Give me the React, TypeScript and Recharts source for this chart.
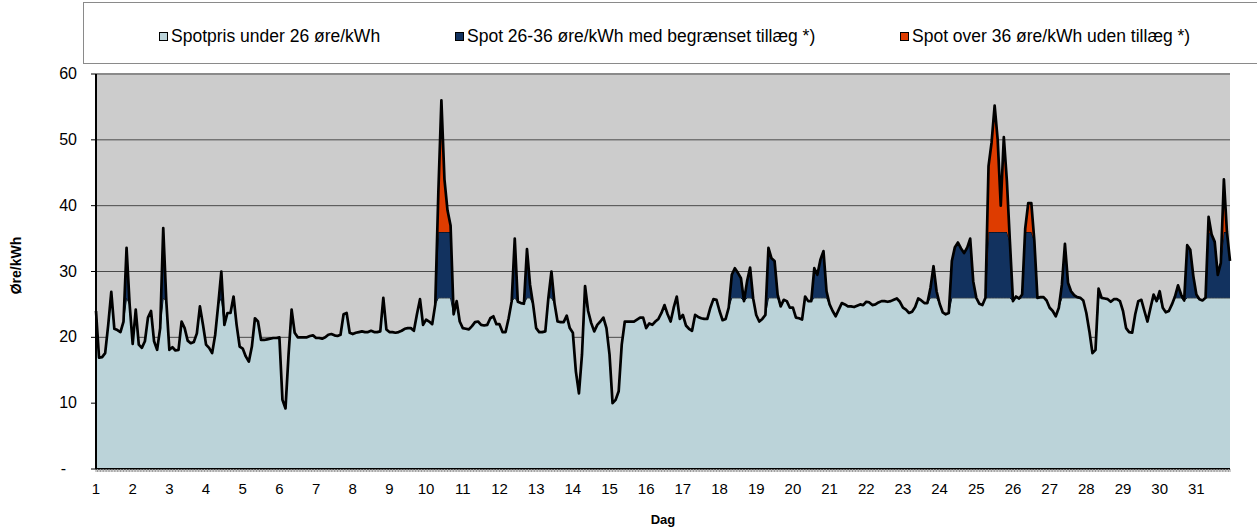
import React from 'react';
import { ComposedChart, Area, Line, XAxis, YAxis, CartesianGrid, Label, ReferenceLine } from 'recharts';

// Spot prices (øre/kWh), one value every 2 hours, 12 values per day
const day01 = [24, 16.9, 17, 17.6, 21.9, 26.9, 21.3, 21.1, 20.8, 22.4, 33.6, 25];
const day02 = [19, 24.2, 18.9, 18.4, 19.4, 23, 24, 19.4, 18.1, 21.4, 36.6, 25.5];
const day03 = [18.1, 18.5, 18, 18.1, 22.4, 21.4, 19.5, 19.1, 19.3, 20.6, 24.7, 21.9];
const day04 = [18.9, 18.4, 17.6, 20.4, 25, 30, 21.9, 23.7, 23.7, 26.2, 21.9, 18.6];
const day05 = [18.3, 17.1, 16.3, 18.6, 22.9, 22.4, 19.6, 19.6, 19.7, 19.8, 19.9, 19.9];
const day06 = [20, 10.5, 9.2, 17.4, 24.2, 20.7, 20, 20, 20, 20, 20.2, 20.3];
const day07 = [19.9, 19.9, 19.8, 20, 20.4, 20.5, 20.3, 20.2, 20.4, 23.5, 23.7, 20.7];
const day08 = [20.5, 20.7, 20.8, 20.9, 20.8, 20.8, 21, 20.8, 20.8, 20.9, 26, 21.2];
const day09 = [20.8, 20.8, 20.7, 20.8, 21, 21.3, 21.4, 21.4, 21, 23.5, 25.8, 21.9];
const day10 = [22.7, 22.4, 22, 25, 42, 56, 44, 39.3, 37, 23.5, 25.5, 22.4];
const day11 = [21.4, 21.3, 21.2, 21.7, 22.3, 22.4, 21.9, 21.8, 21.9, 22.9, 23.2, 22];
const day12 = [22, 20.8, 20.8, 22.9, 25.5, 35, 25.4, 25.2, 25.1, 33.4, 28, 25];
const day13 = [21.4, 20.8, 20.8, 20.9, 26, 30, 25.2, 22.4, 22.3, 22.3, 23.3, 21.4];
const day14 = [20.7, 14.8, 11.5, 17.4, 27.8, 24, 22.2, 20.9, 21.9, 22.4, 23, 21.4];
const day15 = [17.4, 10, 10.5, 11.8, 18.9, 22.4, 22.4, 22.4, 22.4, 22.7, 23, 23];
const day16 = [21.4, 22.1, 21.9, 22.4, 22.8, 23.7, 24.9, 23.5, 22.4, 24.5, 26.2, 22.8];
const day17 = [23.4, 21.8, 21.3, 21, 23.4, 23.1, 22.9, 22.8, 22.8, 24.5, 25.8, 25.7];
const day18 = [24, 22.6, 22.8, 24.5, 29.5, 30.5, 29.8, 29, 25.5, 28.5, 30.6, 25.9];
const day19 = [23.4, 22.4, 22.8, 23.4, 33.6, 32, 31.6, 26.5, 24.7, 25.7, 25.5, 24.5];
const day20 = [24.5, 23, 22.9, 22.7, 26.2, 25.5, 25.5, 30.5, 29.5, 31.8, 33.1, 27];
const day21 = [25, 24, 23.2, 24.2, 25.2, 25, 24.7, 24.7, 24.6, 24.8, 25, 24.9];
const day22 = [25.4, 25.3, 24.9, 25, 25.3, 25.5, 25.5, 25.4, 25.5, 25.7, 25.9, 25.4];
const day23 = [24.5, 24.2, 23.7, 23.9, 24.6, 25.9, 25.6, 25.2, 25.2, 27.5, 30.8, 27];
const day24 = [25.1, 23.8, 23.5, 23.7, 31.6, 33.7, 34.4, 33.5, 32.8, 33.6, 35, 28.5];
const day25 = [26, 25.1, 24.9, 26, 46, 49.6, 55.2, 50, 40, 50.4, 43.8, 34.5];
const day26 = [25.5, 26.2, 25.9, 26.5, 36.5, 40.4, 40.4, 34.6, 26, 26.1, 26.1, 25.6];
const day27 = [24.5, 24, 23.2, 24.5, 28, 34.2, 28.3, 27, 26.4, 26.1, 26, 25.6];
const day28 = [23.7, 20.9, 17.6, 18.1, 27.4, 26, 25.9, 25.8, 25.4, 25.8, 25.8, 25.5];
const day29 = [24, 21.4, 20.8, 20.7, 23.5, 25.5, 25.7, 24, 22.4, 24.5, 26.5, 25.5];
const day30 = [27, 24.5, 23.8, 24, 25, 26.2, 27.9, 26.5, 25.6, 34, 33.3, 29.3];
const day31 = [26.5, 25.8, 25.6, 26, 38.3, 35.6, 34.5, 29.5, 31.3, 44, 36, 31.6];

const dailyPrices = [
  day01, day02, day03, day04, day05, day06, day07, day08, day09, day10,
  day11, day12, day13, day14, day15, day16, day17, day18, day19, day20,
  day21, day22, day23, day24, day25, day26, day27, day28, day29, day30, day31,
];

const HOUR_STEP = 2;
const LOW_LIMIT = 26;
const HIGH_LIMIT = 36;
const yTicks = [0, 10, 20, 30, 40, 50, 60];
const legendLabels = [
  'Spotpris under 26 øre/kWh',
  'Spot 26-36 øre/kWh med begrænset tillæg *)',
  'Spot over 36 øre/kWh uden tillæg *)',
];
const colors = { low: '#BBD3D9', mid: '#12325F', high: '#DE3C00', bg: '#CCCCCC' };

const prices = dailyPrices.flat();
const data = prices.map((v, i) => ({
  h: i * HOUR_STEP,
  v,
  low: Math.min(v, LOW_LIMIT),
  mid: Math.max(0, Math.min(v, HIGH_LIMIT) - LOW_LIMIT),
  high: Math.max(0, v - HIGH_LIMIT),
}));
const lastHour = (prices.length - 1) * HOUR_STEP;
const hourTicks = Array.from({ length: lastHour + 1 }, (_, i) => i);

const FONT = '"Liberation Sans", Arial, sans-serif';

const YTick = (props: any) => {
  const { x, y, payload } = props;
  const zero = payload.value === 0;
  return (
    <text x={zero ? x - 11 : x} y={y} dy={5} textAnchor="end" fontSize={16} fontFamily={FONT} fill="#000">
      {zero ? '-' : payload.value}
    </text>
  );
};

const legendItems = [
  { label: legendLabels[0], color: colors.low, left: 159 },
  { label: legendLabels[1], color: colors.mid, left: 455 },
  { label: legendLabels[2], color: colors.high, left: 900 },
];

export default function App() {
  return (
    <div style={{ position: 'absolute', left: 0, top: 0, width: 1257, height: 530, background: '#fff', overflow: 'hidden', fontFamily: FONT }}>
      <div style={{ position: 'absolute', left: 83, top: 2, width: 1200, height: 62, border: '1px solid #8a8a8a', boxSizing: 'border-box' }} />
      {legendItems.map((it) => (
        <div key={it.label} style={{ position: 'absolute', left: it.left, top: 25, height: 22, display: 'flex', alignItems: 'center', whiteSpace: 'nowrap' }}>
          <span style={{ display: 'inline-block', width: 7, height: 7, background: it.color, border: '1px solid #000', marginRight: 3 }} />
          <span style={{ fontSize: 17.5, color: '#000' }}>{it.label}</span>
        </div>
      ))}
      <div style={{ position: 'absolute', left: 0, top: 0 }}>
        <ComposedChart width={1257} height={530} data={data} margin={{ top: 74, right: 27, left: 0, bottom: 0 }}>
          <CartesianGrid vertical={false} fill={colors.bg} stroke="#4a4a4a" strokeWidth={1} />
          <XAxis
            dataKey="h"
            type="number"
            domain={[0, lastHour]}
            ticks={hourTicks}
            interval={0}
            height={61}
            tickSize={3}
            tickMargin={11}
            tickLine={{ stroke: '#9a9a9a' }}
            axisLine={{ stroke: '#000', strokeWidth: 2 }}
            tick={{ fontSize: 15, fontFamily: FONT, fill: '#000' }}
            tickFormatter={(h: number) => (h % 24 === 0 ? String(h / 24 + 1) : '')}
          >
            <Label
              content={(p: any) => {
                const vb = p.viewBox;
                return (
                  <text x={vb.x + vb.width / 2} y={vb.y + 55} textAnchor="middle" fontSize={13} fontWeight="bold" fontFamily={FONT} fill="#000">
                    Dag
                  </text>
                );
              }}
            />
          </XAxis>
          <YAxis
            domain={[0, 60]}
            ticks={yTicks}
            width={96}
            tickSize={5}
            tickMargin={14}
            tickLine={{ stroke: '#000' }}
            axisLine={{ stroke: '#000', strokeWidth: 2 }}
            tick={<YTick />}
            interval={0}
          >
            <Label
              content={(p: any) => {
                const vb = p.viewBox;
                const cx = vb.x + 16;
                const cy = vb.y + vb.height / 2 - 6;
                return (
                  <text x={cx} y={cy} transform={`rotate(-90 ${cx} ${cy})`} textAnchor="middle" dominantBaseline="central" fontSize={14} fontWeight="bold" fontFamily={FONT} fill="#000">
                    Øre/kWh
                  </text>
                );
              }}
            />
          </YAxis>
          <YAxis yAxisId="right" orientation="right" width={0} domain={[0, 60]} tick={false} tickLine={false} axisLine={{ stroke: '#8a8a8a', strokeWidth: 2 }} />
          <ReferenceLine y={60} stroke="#8a8a8a" strokeWidth={2} />
          <Area type="linear" dataKey="low" stackId="s" fill={colors.low} fillOpacity={1} stroke="#000" strokeWidth={1} isAnimationActive={false} />
          <Area type="linear" dataKey="mid" stackId="s" fill={colors.mid} fillOpacity={1} stroke="#000" strokeWidth={1} isAnimationActive={false} />
          <Area type="linear" dataKey="high" stackId="s" fill={colors.high} fillOpacity={1} stroke="none" isAnimationActive={false} />
          <Line type="linear" dataKey="v" stroke="#000" strokeWidth={2.7} strokeLinejoin="round" dot={false} activeDot={false} isAnimationActive={false} />
        </ComposedChart>
      </div>
    </div>
  );
}
